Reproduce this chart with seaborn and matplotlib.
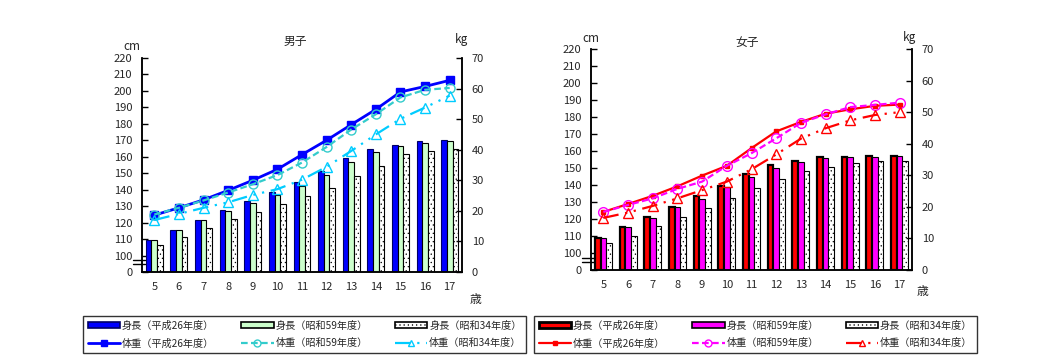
import numpy as np
import pandas as pd
import matplotlib
matplotlib.use("Agg")
import matplotlib.pyplot as plt
import matplotlib.transforms as mtransforms
from matplotlib.patches import Patch
from matplotlib.lines import Line2D
import seaborn as sns

# ---------------- data ----------------
ages = ["5", "6", "7", "8", "9", "10", "11", "12", "13", "14", "15", "16", "17"]
periods = ["平成26年度", "昭和59年度", "昭和34年度"]

boys_height_h26 = [109.2, 115.6, 121.7, 127.4, 132.9, 138.4, 144.5, 151.6, 159.1, 164.6, 167.1, 169.5, 170.1]
boys_height_s59 = [109.6, 115.6, 121.3, 126.8, 131.7, 136.6, 142.1, 148.8, 156.7, 162.8, 166.3, 168.1, 169.5]
boys_height_s34 = [106.1, 111.0, 116.5, 122.0, 126.2, 131.1, 136.0, 140.9, 148.2, 154.3, 161.6, 163.4, 164.6]
boys_weight_h26 = [18.6, 21.0, 23.6, 26.7, 30.0, 33.6, 38.4, 43.1, 48.2, 53.2, 58.9, 60.7, 62.7]
boys_weight_s59 = [18.8, 21.0, 23.4, 26.0, 28.7, 31.7, 35.8, 40.9, 46.6, 51.6, 57.1, 59.6, 60.2]
boys_weight_s34 = [17.0, 19.0, 21.0, 22.8, 25.2, 27.1, 30.2, 34.4, 39.6, 45.0, 50.1, 53.8, 57.7]

girls_height_h26 = [109.0, 115.5, 121.2, 127.3, 133.7, 139.6, 146.5, 152.0, 154.3, 156.3, 156.7, 157.3, 157.1]
girls_height_s59 = [109.0, 115.1, 120.8, 126.9, 132.0, 138.6, 144.5, 149.8, 153.7, 155.7, 156.3, 156.3, 157.3]
girls_height_s34 = [105.7, 110.2, 115.7, 121.0, 126.3, 132.2, 138.0, 143.3, 148.0, 150.4, 152.7, 153.9, 153.9]
girls_weight_h26 = [18.4, 20.9, 23.5, 26.5, 29.9, 33.0, 38.6, 43.9, 46.9, 49.5, 50.9, 52.0, 52.4]
girls_weight_s59 = [18.4, 20.6, 22.7, 25.7, 28.0, 33.0, 37.0, 41.7, 46.6, 49.3, 51.6, 52.3, 53.0]
girls_weight_s34 = [16.5, 18.2, 20.3, 22.7, 25.3, 28.0, 31.9, 36.6, 41.6, 44.9, 47.4, 49.1, 50.0]

height_ticks = [0, 100, 110, 120, 130, 140, 150, 160, 170, 180, 190, 200, 210, 220]
weight_ticks = [0, 10, 20, 30, 40, 50, 60, 70]

# ---------------- style ----------------
sns.set_style("white")
plt.rcParams["font.family"] = ["Noto Sans CJK JP", "DejaVu Sans"]
plt.rcParams["hatch.linewidth"] = 0.4
plt.rcParams["hatch.color"] = "black"

FS = 8
HATCH = "...."


def fwd(v):
    v = np.asarray(v, dtype=float)
    return np.where(v >= 100, v - 90.0, v / 10.0)


def inv(v):
    v = np.asarray(v, dtype=float)
    return np.where(v >= 10, v + 90.0, v * 10.0)


def draw_panel(fig, rect, title, heights, weights, bar_faces, bar_edges, bar_lws,
               line_styles, title_xy, cm_xy, kg_xy, sai_xy):
    ax = fig.add_axes(rect)
    df = pd.DataFrame({
        "age": ages * 3,
        "period": [p for p in periods for _ in ages],
        "height": list(heights[0]) + list(heights[1]) + list(heights[2]),
    })
    sns.barplot(data=df, x="age", y="height", hue="period", order=ages,
                hue_order=periods, palette=dict(zip(periods, bar_faces)),
                width=0.69, gap=0, legend=False, ax=ax, saturation=1)
    for i, cont in enumerate(ax.containers):
        for p in cont:
            p.set_edgecolor(bar_edges[i])
            p.set_linewidth(bar_lws[i])
            if i == 2:
                p.set_hatch(HATCH)
    ax.set_yscale("function", functions=(fwd, inv))
    ax.set_ylim(0, 220)
    ax.set_yticks(height_ticks)
    ax.set_yticklabels([str(t) for t in height_ticks])
    ax.set_xlim(-0.5, len(ages) - 0.5)
    ax.set_xlabel("")
    ax.set_ylabel("")
    ax.set_xticks(range(len(ages)))
    ax.set_xticklabels(ages)
    ax.set_xticks(np.arange(0.5, len(ages) - 0.5, 1.0), minor=True)
    ax.tick_params(axis="x", which="major", length=0, pad=7, labelsize=FS)
    ax.tick_params(axis="x", which="minor", direction="in", length=3, width=1, color="black")
    ax.tick_params(axis="y", direction="in", length=4, width=1, pad=7, labelsize=FS,
                   left=True, color="black")
    for s in ax.spines.values():
        s.set_color("black")
        s.set_linewidth(1.1)
    ax.spines["top"].set_visible(False)

    ax2 = ax.twinx()
    x = np.arange(len(ages))
    for w, st in zip(weights, line_styles):
        ax2.plot(x, w, **st)
    ax2.set_ylim(0, 70)
    ax2.set_yticks(weight_ticks)
    ax2.tick_params(axis="y", direction="in", length=4, width=1, pad=7, labelsize=FS,
                    right=True, color="black")
    for s in ax2.spines.values():
        s.set_color("black")
        s.set_linewidth(1.1)
    ax2.spines["top"].set_visible(False)
    ax2.grid(False)
    ax.grid(False)

    # axis break mark
    tr = mtransforms.blended_transform_factory(ax.transAxes, ax.transAxes)
    for yy in (0.055, 0.038):
        ax.plot([-0.028, 0.01], [yy, yy], transform=tr, color="black", lw=1.0,
                clip_on=False, zorder=5)

    W, H = 1055.0, 358.0
    fig.text(title_xy[0] / W, 1 - title_xy[1] / H, title, ha="center", va="center", fontsize=8.5)
    fig.text(cm_xy[0] / W, 1 - cm_xy[1] / H, "cm", ha="center", va="center", fontsize=8.5)
    fig.text(kg_xy[0] / W, 1 - kg_xy[1] / H, "kg", ha="center", va="center", fontsize=8.5)
    fig.text(sai_xy[0] / W, 1 - sai_xy[1] / H, "歳", ha="center", va="center", fontsize=8.5)
    return ax, ax2


fig = plt.figure(figsize=(10.55, 3.58), dpi=100)
W, H = 1055.0, 358.0

# ---- boys ----
b_faces = ["#0000FF", "#CCFFCC", "#FFFFFF"]
b_edges = ["#000066", "#000000", "#000000"]
b_lws = [0.8, 0.8, 0.8]
b_lines = [
    dict(color="#0000FF", lw=2.0, ls="-", marker="s", ms=6, mfc="#0000FF", mec="#0000FF"),
    dict(color="#33CCCC", lw=1.6, ls=(0, (3, 1.5)), marker="o", ms=6.5, mfc="none", mec="#33CCCC", mew=1.0),
    dict(color="#00CCFF", lw=1.6, ls=(0, (7, 3, 1, 3, 1, 3)), marker="^", ms=7, mfc="none", mec="#00CCFF", mew=1.0),
]
draw_panel(fig, [142 / W, 1 - 272 / H, 320 / W, 214 / H], "男子",
           [boys_height_h26, boys_height_s59, boys_height_s34],
           [boys_weight_h26, boys_weight_s59, boys_weight_s34],
           b_faces, b_edges, b_lws, b_lines,
           (295, 41), (132, 46), (461, 39), (475, 300))

# ---- girls ----
g_faces = ["#FF0000", "#FF00FF", "#FFFFFF"]
g_edges = ["#000000", "#000000", "#000000"]
g_lws = [1.6, 0.8, 0.8]
g_lines = [
    dict(color="#FF0000", lw=1.6, ls="-", marker="s", ms=3.5, mfc="#FF0000", mec="#FF0000"),
    dict(color="#FF00FF", lw=1.6, ls=(0, (3, 1.5)), marker="o", ms=7, mfc="none", mec="#FF00FF", mew=1.0),
    dict(color="#FF0000", lw=1.6, ls=(0, (7, 3, 1, 3, 1, 3)), marker="^", ms=7, mfc="none", mec="#FF0000", mew=1.0),
]
draw_panel(fig, [591 / W, 1 - 270 / H, 321 / W, 221 / H], "女子",
           [girls_height_h26, girls_height_s59, girls_height_s34],
           [girls_weight_h26, girls_weight_s59, girls_weight_s34],
           g_faces, g_edges, g_lws, g_lines,
           (747, 42), (591, 38), (909, 37), (922, 292))


# ---------------- legends ----------------
def make_handles(faces, edges, lws, lines):
    hs, ls = [], []
    for i, p in enumerate(periods):
        hs.append(Patch(facecolor=faces[i], edgecolor=edges[i], linewidth=lws[i] + 0.4,
                        hatch=HATCH if i == 2 else None))
        ls.append("身長（" + p + "）")
        st = dict(lines[i])
        st["ms"] = min(st.get("ms", 5), 5)
        hs.append(Line2D([0], [0], **st))
        ls.append("体重（" + p + "）")
    return hs, ls


for faces, edges, lws, lines, x0 in [
    (b_faces, b_edges, b_lws, b_lines, 83),
    (g_faces, g_edges, g_lws, g_lines, 534),
]:
    hs, ls = make_handles(faces, edges, lws, lines)
    leg = fig.legend(hs, ls, ncol=3, loc="lower left", mode="expand",
                     bbox_to_anchor=(x0 / W, 1 - 353 / H, 443 / W, 40 / H),
                     fontsize=7.3, frameon=True, fancybox=False, shadow=False,
                     handlelength=3.2, handleheight=0.55, handletextpad=0.2,
                     labelspacing=0.75, borderpad=0.45, borderaxespad=0,
                     columnspacing=1.0, numpoints=1)
    fr = leg.get_frame()
    fr.set_edgecolor("black")
    fr.set_linewidth(1.0)
    fr.set_boxstyle("square", pad=0)

fig.savefig("out.png", dpi=100)
